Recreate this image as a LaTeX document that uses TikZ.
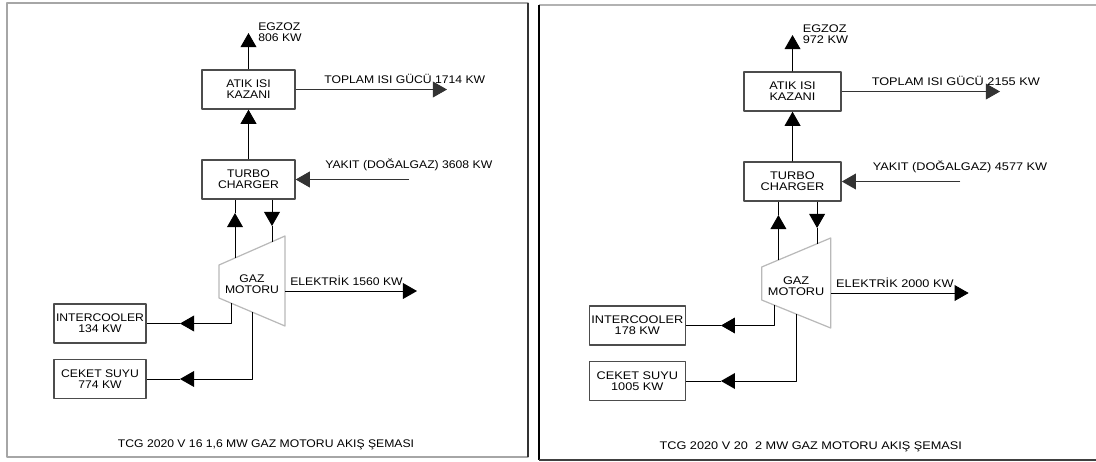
\documentclass[tikz,border=0pt]{standalone}
\usepackage{fontspec}
\setmainfont[FakeStretch=1.1]{Liberation Sans}
\usetikzlibrary{arrows.meta}
\begin{document}
\begin{tikzpicture}[x=.02cm,y=-.02cm,>={Triangle[length=8pt,width=9pt]},line join=round,
 font=\fontsize{6.3}{6.4}\selectfont,
 kutu/.style={draw=gray!60!black,line width=.8pt,minimum width=1.86cm,minimum height=.78cm,inner sep=0pt,align=center},
 akis/.style={line width=.5pt},
 yazi/.style={anchor=west,inner sep=0pt,align=left}]
 \useasboundingbox (0,0) rectangle (1096,461);
 % cerceveler
 \draw[gray!70,line width=1pt] (7,3) rectangle (528,457);
 \draw[gray!40!black,line width=.8pt] (528,3)--(528,457);
 \draw[gray!60,line width=1pt] (1096,5)--(539,5);
 \draw[line width=.8pt] (539,5)--(539,460);
 \draw[gray!50!black,line width=1pt] (539,460)--(1096,460);
 \foreach \pre/\sx/\sy/\xs/\egz/\tpl/\yak/\ele/\icw/\csw/\ttl in {
  L/0/0/1/806/1714/3608/1560/134/774/{TCG 2020 V 16 1,6 MW GAZ MOTORU AKIŞ ŞEMASI},
  R/532.8/2/1.045/972/2155/4577/2000/178/1005/{TCG 2020 V 20\ \ 2 MW GAZ MOTORU AKIŞ ŞEMASI}}{
 \begin{scope}[name prefix=\pre-,shift={(\sx,\sy)},xscale=\xs,transform shape]
 \node[kutu] (atik) at (248.5,89.5) {ATIK ISI\\KAZANI};
 \node[kutu] (turbo) at (248.5,179.5) {TURBO\\CHARGER};
 \node[kutu,minimum width=1.84cm] (ic) at (100,323.5) {INTERCOOLER\\\icw\ KW};
 \node[kutu,minimum width=1.84cm] (cs) at (100,379) {CEKET SUYU\\\csw\ KW};
 % motor
 \coordinate (ust) at (219,265); \coordinate (usr) at (285,236);
 \coordinate (alr) at (285,326); \coordinate (alt) at (219,298);
 \draw[gray!55,line width=.7pt] (ust)--(usr)--(alr)--(alt)--cycle;
 \node[align=center,inner sep=0pt] (motor) at (252,284.5) {GAZ\\MOTORU};
 % akislar
 \coordinate (egzu) at (248.5,33);
 \draw[akis,->] (atik)--(egzu);
 \node[yazi] (egzyazi) at (258,32) {EGZOZ\\\egz\ KW};
 \coordinate (tplu) at (447,89.5);
 \draw[akis,gray!40!black,->] (atik)--(tplu);
 \node[yazi] (tplyazi) at (324,79) {TOPLAM ISI GÜCÜ \tpl\ KW};
 \coordinate (yaku) at (409,179.5);
 \draw[akis,gray!40!black,->] (yaku)--(turbo);
 \node[yazi] (yakyazi) at (325,165) {YAKIT (DOĞALGAZ) \yak\ KW};
 \draw[akis,->] (turbo)--(atik);
 \coordinate (m1) at (235,258); \coordinate (c1) at (235,213);
 \draw[akis,->] (m1)--(c1); \draw[akis] (c1)--(turbo.south -| c1);
 \coordinate (m2) at (272,241.7); \coordinate (c2) at (272,226);
 \draw[akis,->] (turbo.south -| c2)--(c2); \draw[akis] (c2)--(m2);
 \coordinate (me) at (285,291); \coordinate (elu) at (417,291);
 \draw[akis,->] (me)--(elu);
 \node[yazi] (eleyazi) at (290,281) {ELEKTRİK \ele\ KW};
 \coordinate (m3) at (231,303); \coordinate (c3) at (180,323.5);
 \draw[akis,->] (m3)|-(c3); \draw[akis] (c3)--(ic);
 \coordinate (m4) at (252,312); \coordinate (c4) at (180,379);
 \draw[akis,->] (m4)|-(c4); \draw[akis] (c4)--(cs);
 \node (baslik) at (266,445) {\ttl};
 \end{scope}}
\end{tikzpicture}
\end{document}
